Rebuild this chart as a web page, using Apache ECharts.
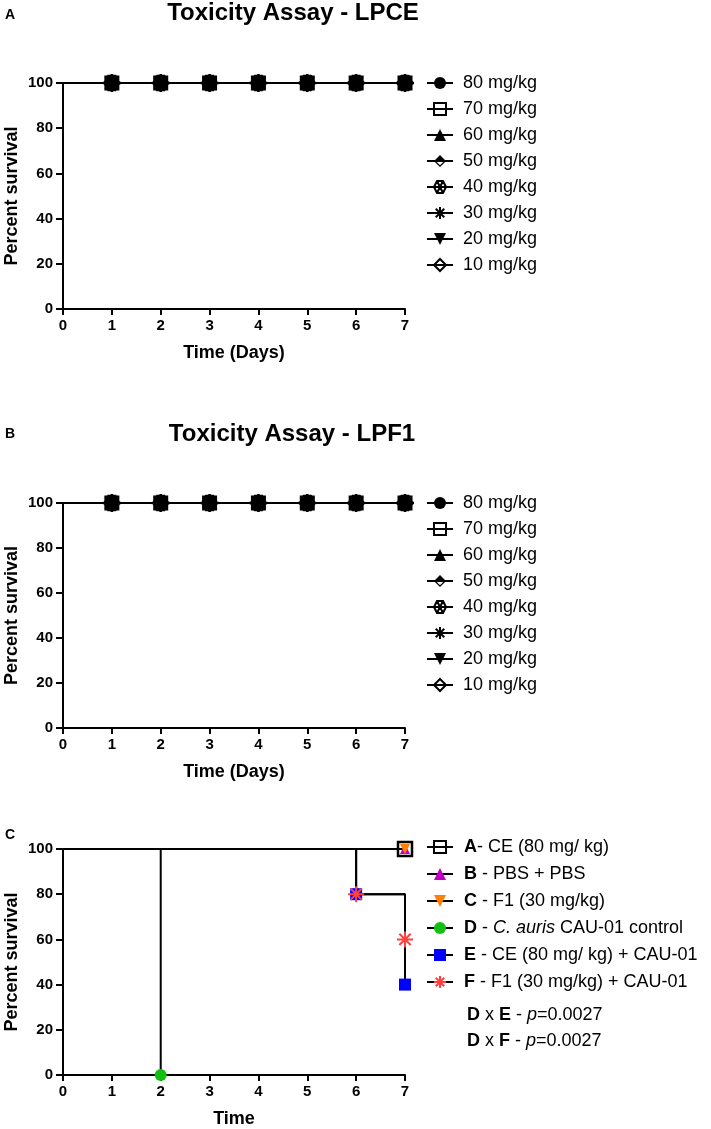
<!DOCTYPE html>
<html>
<head>
<meta charset="utf-8">
<script src="https://cdn.jsdelivr.net/npm/echarts@6/dist/echarts.min.js"></script>
<style>
  html, body { margin: 0; padding: 0; background: #fff; }
  #main { width: 711px; height: 1129px; }
</style>
</head>
<body>
<div id="main"></div>
<script>
// data
var days = [0, 1, 2, 3, 4, 5, 6, 7];
var doses = ["80 mg/kg", "70 mg/kg", "60 mg/kg", "50 mg/kg", "40 mg/kg", "30 mg/kg", "20 mg/kg", "10 mg/kg"];
var survivalLPCE = [100, 100, 100, 100, 100, 100, 100, 100];
var survivalLPF1 = [100, 100, 100, 100, 100, 100, 100, 100];

var groupNames = [
  "A- CE (80 mg/ kg)",
  "B - PBS + PBS",
  "C - F1 (30 mg/kg)",
  "D - C. auris CAU-01 control",
  "E - CE (80 mg/ kg) + CAU-01",
  "F - F1 (30 mg/kg) + CAU-01"
];
// Kaplan-Meier steps [day, percent]
var groupA = [[0, 100], [7, 100]];
var groupB = [[0, 100], [7, 100]];
var groupC = [[0, 100], [7, 100]];
var groupD = [[0, 100], [2, 0]];
var groupE = [[0, 100], [6, 80], [7, 40]];
var groupF = [[0, 100], [6, 80], [7, 60]];

var FONT = "Liberation Sans, Arial, sans-serif";

// symbols
var ASTER = "path://M0,-10L0,10M-10,0L10,0M-7.07,-7.07L7.07,7.07M-7.07,7.07L7.07,-7.07";
var HEXA = "path://M10,0L5,8.66L-5,8.66L-10,0L-5,-8.66L5,-8.66ZM-5,-8.66L5,8.66M5,-8.66L-5,8.66M-10,0L10,0";
var HALFDIA = "path://M0,-10L10,0L-10,0ZM-10,0L0,10L10,0L7,0L0,7L-7,0Z";

var doseSymbols = [
  { symbol: "circle", size: 12, color: "#000", bw: 0 },
  { symbol: "rect", size: 13, color: "rgba(0,0,0,0)", bw: 2 },
  { symbol: "triangle", size: 12, color: "#000", bw: 0 },
  { symbol: HALFDIA, size: 14, color: "#000", bw: 0 },
  { symbol: HEXA, size: 15, color: "rgba(0,0,0,0)", bw: 1.5 },
  { symbol: ASTER, size: 18, color: "#000", bw: 2.5 },
  { symbol: "triangle", size: 12, color: "#000", bw: 0, rotate: 180 },
  { symbol: "diamond", size: 14, color: "rgba(0,0,0,0)", bw: 3 }
];

var grids = [
  { left: 63, top: 83, width: 342, height: 226 },
  { left: 63, top: 503, width: 342, height: 225 },
  { left: 63, top: 849, width: 342, height: 226 }
];

function makeX(i, name) {
  return {
    gridIndex: i, type: "value", min: 0, max: 7, interval: 1,
    name: name, nameLocation: "middle", nameGap: 35,
    nameTextStyle: { fontFamily: FONT, fontSize: 18, fontWeight: "bold", color: "#000" },
    axisLine: { lineStyle: { color: "#000", width: 2 } },
    axisTick: { length: 6, lineStyle: { color: "#000", width: 2 } },
    axisLabel: { margin: 9, fontFamily: FONT, fontSize: 15, fontWeight: "bold", color: "#000" },
    splitLine: { show: false }
  };
}
function makeY(i) {
  return {
    gridIndex: i, type: "value", min: 0, max: 100, interval: 20,
    name: "Percent survival", nameLocation: "middle", nameGap: 42,
    nameTextStyle: { fontFamily: FONT, fontSize: 18, fontWeight: "bold", color: "#000" },
    axisLine: { lineStyle: { color: "#000", width: 2 } },
    axisTick: { length: 7, lineStyle: { color: "#000", width: 2 } },
    axisLabel: { margin: 10, fontFamily: FONT, fontSize: 15, fontWeight: "bold", color: "#000" },
    splitLine: { show: false }
  };
}

var series = [];
[survivalLPCE, survivalLPF1].forEach(function (vals, g) {
  doses.forEach(function (name, k) {
    var s = doseSymbols[k];
    series.push({
      name: name, type: "line", xAxisIndex: g, yAxisIndex: g,
      symbol: s.symbol, symbolSize: s.size, symbolRotate: s.rotate || 0,
      lineStyle: { color: "#000", width: 2 },
      itemStyle: { color: s.color, borderColor: "#000", borderWidth: s.bw },
      data: days.map(function (d, j) {
        return j === 0 ? { value: [d, vals[j]], symbol: "none" } : [d, vals[j]];
      }),
      animation: false
    });
  });
});

var groupData = [groupA, groupB, groupC, groupD, groupE, groupF];
var groupStyle = [
  { symbol: "rect", size: 14, color: "rgba(0,0,0,0)", border: "#000", bw: 2.5 },
  { symbol: "triangle", size: 10, color: "#c000c0", border: "#c000c0", bw: 0 },
  { symbol: "triangle", size: 10, color: "#ff8000", border: "#ff8000", bw: 0, rotate: 180 },
  { symbol: "circle", size: 12, color: "#11c011", border: "#11c011", bw: 0 },
  { symbol: "rect", size: 12, color: "#0000ff", border: "#0000ff", bw: 0 },
  { symbol: ASTER, size: 16, color: "#ff4040", border: "#ff4040", bw: 2 }
];
groupNames.forEach(function (name, k) {
  var s = groupStyle[k];
  series.push({
    name: name, type: "line", xAxisIndex: 2, yAxisIndex: 2, step: "end",
    symbol: s.symbol, symbolSize: s.size, symbolRotate: s.rotate || 0,
    lineStyle: { color: "#000", width: 2 },
    itemStyle: { color: s.color, borderColor: s.border, borderWidth: s.bw },
    data: groupData[k].map(function (p, j) {
      return j === 0 ? { value: p, symbol: "none" } : p;
    }),
    animation: false
  });
});

function doseLegend(top) {
  return {
    orient: "vertical", left: 421, top: top, data: doses,
    itemWidth: 26, itemHeight: 15, itemGap: 8, selectedMode: false,
    textStyle: { fontFamily: FONT, fontSize: 18, color: "#000", padding: [0, 0, 0, 5] }
  };
}

var chart = echarts.init(document.getElementById("main"));
chart.setOption({
  backgroundColor: "#fff",
  animation: false,
  title: [
    { text: "Toxicity Assay - LPCE", left: 288, top: -4, textAlign: "center",
      textStyle: { fontFamily: FONT, fontSize: 24, fontWeight: "bold", color: "#000" } },
    { text: "Toxicity Assay - LPF1", left: 287, top: 417, textAlign: "center",
      textStyle: { fontFamily: FONT, fontSize: 24, fontWeight: "bold", color: "#000" } }
  ],
  grid: grids,
  xAxis: [makeX(0, "Time (Days)"), makeX(1, "Time (Days)"), makeX(2, "Time")],
  yAxis: [makeY(0), makeY(1), makeY(2)],
  legend: [
    doseLegend(69),
    doseLegend(489),
    {
      orient: "vertical", left: 421, top: 833, data: groupNames,
      itemWidth: 26, itemHeight: 15, itemGap: 9, selectedMode: false,
      formatter: function (name) {
        return name.replace(/^([A-F])/, "{b|$1}").replace("C. auris", "{i|C. auris}");
      },
      textStyle: {
        fontFamily: FONT, fontSize: 18, color: "#000", padding: [0, 0, 0, 6],
        rich: {
          b: { fontFamily: FONT, fontSize: 18, fontWeight: "bold", color: "#000" },
          i: { fontFamily: FONT, fontSize: 18, fontStyle: "italic", color: "#000" }
        }
      }
    }
  ],
  graphic: [
    { type: "text", left: 5, top: 8, style: { text: "A", font: "bold 14px " + FONT, fill: "#000" } },
    { type: "text", left: 5, top: 427, style: { text: "B", font: "bold 14px " + FONT, fill: "#000" } },
    { type: "text", left: 5, top: 828, style: { text: "C", font: "bold 14px " + FONT, fill: "#000" } },
    { type: "text", left: 467, top: 1006, style: {
        text: "{b|D} x {b|E} - {i|p}=0.0027", font: "18px " + FONT, fill: "#000",
        rich: { b: { font: "bold 18px " + FONT }, i: { font: "italic 18px " + FONT } } } },
    { type: "text", left: 467, top: 1032, style: {
        text: "{b|D} x {b|F} - {i|p}=0.0027", font: "18px " + FONT, fill: "#000",
        rich: { b: { font: "bold 18px " + FONT }, i: { font: "italic 18px " + FONT } } } }
  ],
  series: series
});
</script>
</body>
</html>
